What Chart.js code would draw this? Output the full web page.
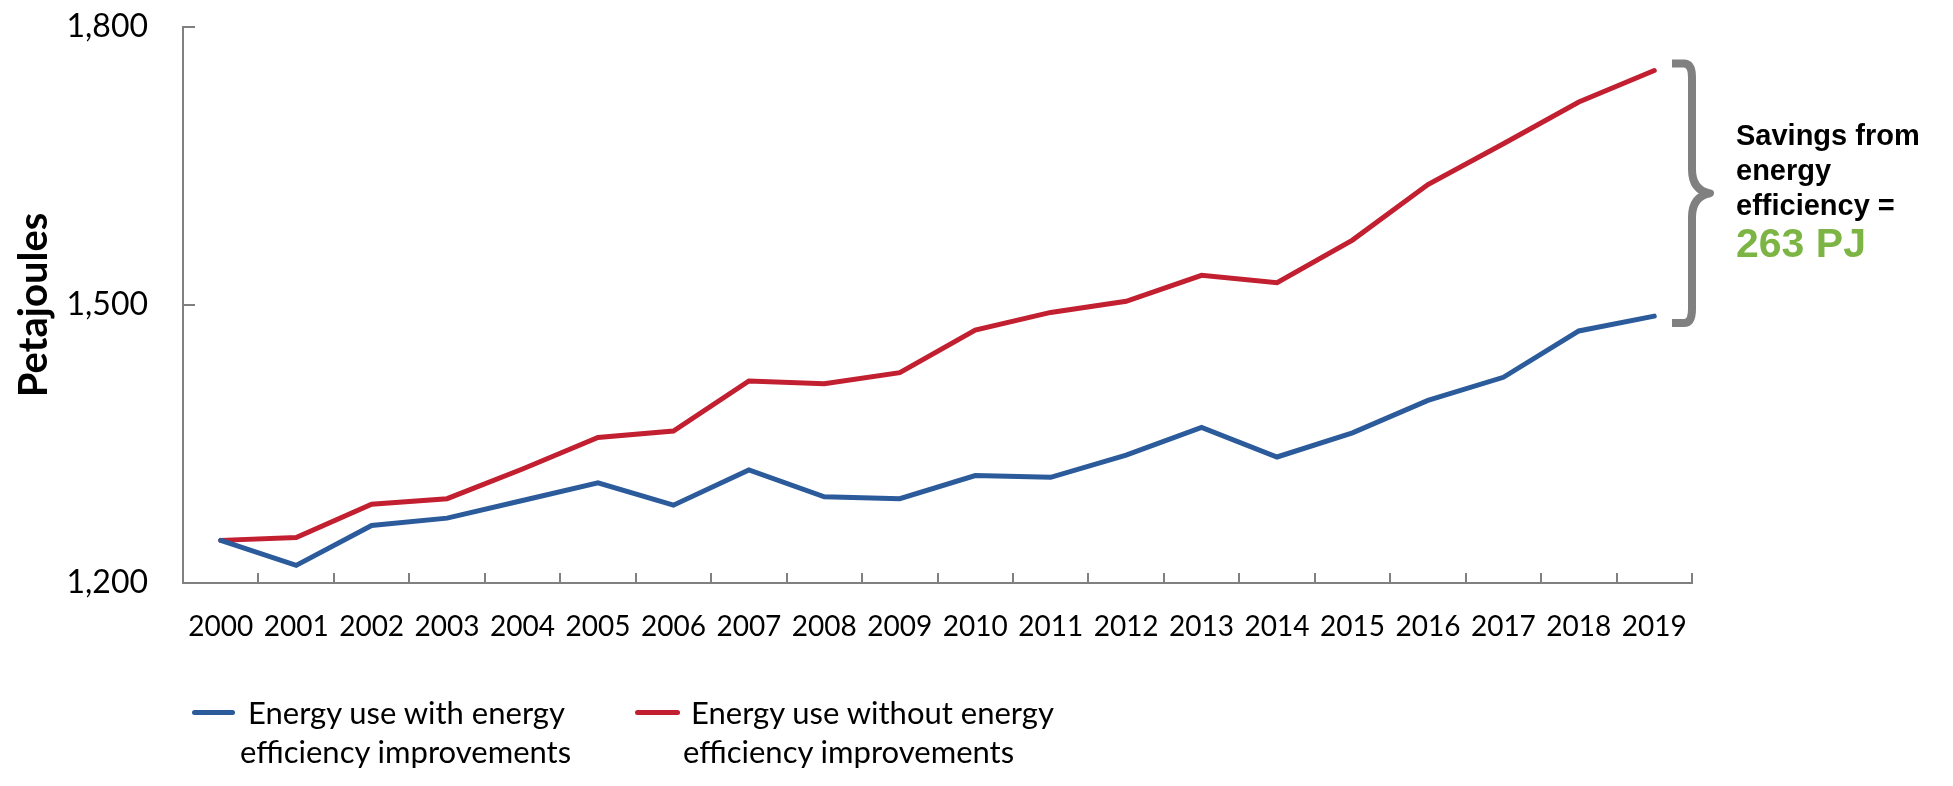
<!DOCTYPE html>
<html>
<head>
<meta charset="utf-8">
<script src="https://cdn.jsdelivr.net/npm/chart.js@4/dist/chart.umd.min.js"></script>
<style>
    body { margin: 0; background: #fff; }
    #wrap { position: relative; width: 1953px; height: 786px; }
    .leg-line { position: absolute; height: 5px; border-radius: 3px; }
    .leg-text { position: absolute; font-family: Lato, sans-serif; font-size: 31px; line-height: 39px; color: #000; white-space: nowrap; }
    .leg-text span { display: block; }
    .leg-text span:first-child { padding-left: 8px; }
</style>
</head>
<body>
<div id="wrap">
    <canvas id="energyChart" width="1953" height="786"></canvas>
    <div class="leg-line" style="left:192px; top:710px; width:43px; background:#2B5B9B;"></div>
    <div class="leg-text" style="left:240px; top:693px;"><span>Energy use with energy</span><span>efficiency improvements</span></div>
    <div class="leg-line" style="left:635px; top:710px; width:45px; background:#C21F30;"></div>
    <div class="leg-text" style="left:683px; top:693px;"><span>Energy use without energy</span><span>efficiency improvements</span></div>
</div>
<script>
// anos e valores (PJ)
const years = ["2000", "2001", "2002", "2003", "2004", "2005", "2006", "2007", "2008", "2009",
    "2010", "2011", "2012", "2013", "2014", "2015", "2016", "2017", "2018", "2019"];
const withEfficiency = [1246, 1219, 1262, 1270, 1289, 1308, 1284, 1322, 1293, 1291,
    1316, 1314, 1338, 1368, 1336, 1362, 1397, 1422, 1472, 1488];
const withoutEfficiency = [1246, 1249, 1285, 1291, 1323, 1357, 1364, 1418, 1415, 1427,
    1473, 1492, 1504, 1532, 1524, 1570, 1630, 1674, 1719, 1753];
const yTicks = [1200, 1500, 1800];
const savingsLines = ["Savings from", "energy", "efficiency ="];
const savingsValue = "263 PJ";

const axisGray = "#808080";

// marcas dos eixos voltadas para dentro + chave com anotação
const extrasPlugin = {
    id: "extras",
    afterDraw(chart) {
        const ctx = chart.ctx;
        const x = chart.scales.x;
        const y = chart.scales.y;
        const area = chart.chartArea;

        ctx.save();
        ctx.strokeStyle = axisGray;
        ctx.lineWidth = 2;
        const half = (x.getPixelForValue(1) - x.getPixelForValue(0)) / 2;
        for (let i = 0; i <= years.length; i++) {
            const px = Math.round(x.getPixelForValue(i) - half);
            ctx.beginPath();
            ctx.moveTo(px, area.bottom);
            ctx.lineTo(px, area.bottom - 10);
            ctx.stroke();
        }
        yTicks.slice(1).forEach(function (v) {
            const py = Math.round(y.getPixelForValue(v));
            ctx.beginPath();
            ctx.moveTo(area.left, py);
            ctx.lineTo(area.left + 12, py);
            ctx.stroke();
        });

        // chave
        const last = years.length - 1;
        const top = y.getPixelForValue(withoutEfficiency[last]) - 7;
        const bottom = y.getPixelForValue(withEfficiency[last]) + 7;
        const mid = (top + bottom) / 2;
        const bx = area.right;
        ctx.strokeStyle = axisGray;
        ctx.lineWidth = 8;
        ctx.lineJoin = "round";
        ctx.beginPath();
        ctx.moveTo(bx - 20, top);
        ctx.lineTo(bx - 8, top);
        ctx.quadraticCurveTo(bx, top, bx, top + 14);
        ctx.lineTo(bx, mid - 24);
        ctx.quadraticCurveTo(bx, mid - 3, bx + 18, mid);
        ctx.quadraticCurveTo(bx, mid + 3, bx, mid + 24);
        ctx.lineTo(bx, bottom - 14);
        ctx.quadraticCurveTo(bx, bottom, bx - 8, bottom);
        ctx.lineTo(bx - 20, bottom);
        ctx.stroke();

        // texto da anotação
        const tx = bx + 44;
        ctx.fillStyle = "#000";
        ctx.textAlign = "left";
        ctx.textBaseline = "alphabetic";
        ctx.font = "bold 29px 'Liberation Sans', Arial, sans-serif";
        savingsLines.forEach(function (t, i) {
            ctx.fillText(t, tx, mid - 48 + i * 35);
        });
        ctx.fillStyle = "#7DB544";
        ctx.font = "bold 41px 'Liberation Sans', Arial, sans-serif";
        ctx.fillText(savingsValue, tx, mid + 64);
        ctx.restore();
    }
};

const ctx = document.getElementById("energyChart").getContext("2d");
new Chart(ctx, {
    type: "line",
    data: {
        labels: years,
        datasets: [{
            label: "Energy use with energy efficiency improvements",
            data: withEfficiency,
            borderColor: "#2B5B9B",
            backgroundColor: "#2B5B9B",
            borderWidth: 5,
            borderCapStyle: "round",
            pointRadius: 0,
            tension: 0
        }, {
            label: "Energy use without energy efficiency improvements",
            data: withoutEfficiency,
            borderColor: "#C21F30",
            backgroundColor: "#C21F30",
            borderWidth: 5,
            borderCapStyle: "round",
            pointRadius: 0,
            tension: 0
        }]
    },
    options: {
        responsive: false,
        animation: false,
        devicePixelRatio: 1,
        layout: {
            padding: { top: 27, right: 261, left: 0, bottom: 0 }
        },
        plugins: {
            legend: { display: false },
            tooltip: { enabled: false }
        },
        scales: {
            x: {
                offset: true,
                grid: { display: false, drawTicks: false },
                border: { display: true, color: axisGray, width: 2 },
                ticks: {
                    font: { family: "Lato", size: 28 },
                    color: "#000",
                    padding: 27,
                    maxRotation: 0,
                    autoSkip: false
                },
                afterFit(scale) { scale.height = 203; }
            },
            y: {
                min: 1200,
                max: 1800,
                afterBuildTicks(scale) {
                    scale.ticks = yTicks.map(function (v) { return { value: v }; });
                },
                grid: { display: false, drawTicks: false },
                border: { display: true, color: axisGray, width: 2 },
                ticks: {
                    font: { family: "Lato", size: 32 },
                    color: "#000",
                    padding: 35,
                    callback: function (v) { return v.toLocaleString("en-US"); }
                },
                title: {
                    display: true,
                    text: "Petajoules",
                    font: { family: "Lato", size: 40, weight: "bold" },
                    color: "#000",
                    padding: { top: 10, bottom: 0 }
                },
                afterFit(scale) {
                    scale.width = 183;
                    scale.paddingTop = 0;
                    scale.paddingBottom = 0;
                }
            }
        }
    },
    plugins: [extrasPlugin]
});
</script>
</body>
</html>
